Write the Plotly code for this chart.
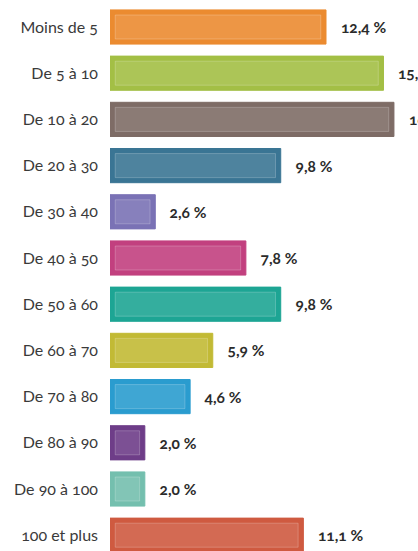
import plotly.graph_objects as go

categories = ["Moins de 5", "De 5 à 10", "De 10 à 20", "De 20 à 30", "De 30 à 40",
              "De 40 à 50", "De 50 à 60", "De 60 à 70", "De 70 à 80", "De 80 à 90",
              "De 90 à 100", "100 et plus"]
values = [12.4, 15.7, 16.3, 9.8, 2.6, 7.8, 9.8, 5.9, 4.6, 2.0, 2.0, 11.1]
colors = ["#EB8B30", "#A3BF45", "#7E6C66", "#3A7594", "#7A72B5", "#C2407F",
          "#1DA594", "#C2BA35", "#2A9CCF", "#6E3D88", "#74BFAE", "#CF5A40"]
value_labels = [f"{v:.1f} %".replace(".", ",") for v in values]

FONT = "Lato, 'Open Sans', sans-serif"

fig = go.Figure()
fig.add_trace(go.Bar(
    y=categories, x=values, orientation="h",
    marker=dict(color=colors, line=dict(color=colors, width=1)),
    width=0.74, hoverinfo="skip", showlegend=False,
))
# inner glossy highlight
inset = 0.3
fig.add_trace(go.Bar(
    y=categories, x=[v - 2 * inset for v in values], base=[inset] * len(values),
    orientation="h",
    marker=dict(color="rgba(255,255,255,0.10)",
                line=dict(color="rgba(255,255,255,0.22)", width=1)),
    width=0.52, hoverinfo="skip", showlegend=False,
))

for c, v, t in zip(categories, values, value_labels):
    fig.add_annotation(x=v, y=c, text=t, xanchor="left", yanchor="middle",
                       xshift=12, showarrow=False,
                       font=dict(family=FONT, size=15.5, color="#2B2B2B", weight="bold"))

px_per_cat = 46.2
top_offset = 27 / px_per_cat
span = 551 / px_per_cat

fig.update_layout(
    width=418, height=551,
    margin=dict(l=110, r=0, t=0, b=0, autoexpand=False),
    paper_bgcolor="white", plot_bgcolor="white",
    barmode="overlay",
    xaxis=dict(range=[0, 308 / 17.42], visible=False, fixedrange=True, automargin=False),
    yaxis=dict(range=[-top_offset + span, -top_offset], showgrid=False, automargin=False,
               zeroline=False, showline=False, ticks="", ticklabelstandoff=11,
               tickfont=dict(family=FONT, size=16, color="#3A3A3A"), fixedrange=True),
    font=dict(family=FONT),
)

post = """
document.body.style.margin='0';
document.body.style.padding='0';
var s=document.createElement('style');
s.textContent='html,body{margin:0;padding:0;} .main-svg text{font-feature-settings:"onum" 1; font-variant-numeric: oldstyle-nums;}';
document.head.appendChild(s);
"""
fig.write_html("out.html", config={"displayModeBar": False}, post_script=post)
